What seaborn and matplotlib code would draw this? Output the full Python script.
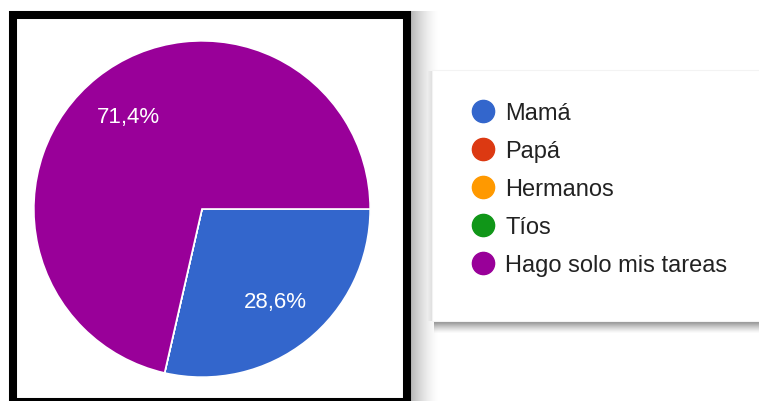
import matplotlib
matplotlib.use('Agg')
import matplotlib.pyplot as plt
from matplotlib.lines import Line2D
from matplotlib.patches import Rectangle
import seaborn as sns

# survey answers (counts)
categories = ['Mamá', 'Papá', 'Hermanos', 'Tíos', 'Hago solo mis tareas']
counts = [2, 0, 0, 0, 5]
colors = ['#3366cc', '#dc3912', '#ff9900', '#109618', '#990099']

sns.set_theme(style='white')
plt.rcParams['font.family'] = ['Liberation Sans', 'DejaVu Sans']

W, H = 759, 402
fig = plt.figure(figsize=(W / 100, H / 100), dpi=100)
fig.patch.set_facecolor('white')


def fx(px):
    return px / W


def fy(py):
    return 1 - py / H


# pie area: centre (202, 210), radius 169 px
ax = fig.add_axes([fx(33), fy(379), fx(338), 338 / H])
palette = sns.color_palette(colors)


def pct(p):
    return '' if p < 0.05 else f'{p:.1f}%'.replace('.', ',')


wedges, _, autotexts = ax.pie(
    counts, colors=palette, startangle=0, counterclock=False,
    autopct=pct, pctdistance=0.70, radius=1,
    wedgeprops=dict(edgecolor='white', linewidth=1.2),
    textprops=dict(color='white', fontsize=16),
)
ax.set_xlim(-1.005, 1.005)
ax.set_ylim(-1.005, 1.005)
ax.set_aspect('equal')
ax.axis('off')

# soft shadow right of the black frame
for i in range(28):
    a = 0.28 * (1 - i / 28) ** 1.6
    fig.patches.append(Rectangle((fx(411 + i), 0), fx(1), fy(12), transform=fig.transFigure,
                                 facecolor='black', edgecolor='none', alpha=a))
# thick black frame
fig.patches.append(Rectangle((fx(13), fy(403)), fx(394), (403 - 16) / H, transform=fig.transFigure,
                             facecolor='none', edgecolor='black', linewidth=5.8))

# legend card with shadow
for i in range(12):
    a = 0.45 * (1 - i / 12) ** 1.3
    fig.patches.append(Rectangle((fx(434), fy(322 + i + 1)), fx(325), fx(1) * W / H,
                                 transform=fig.transFigure, facecolor='black',
                                 edgecolor='none', alpha=a))
for i in range(4):
    fig.patches.append(Rectangle((fx(431 - i), fy(322)), fx(1), (322 - 72) / H,
                                 transform=fig.transFigure, facecolor='black',
                                 edgecolor='none', alpha=0.02 * (4 - i)))
fig.patches.append(Rectangle((fx(432), fy(322)), fx(330), (322 - 71) / H,
                             transform=fig.transFigure, facecolor='white',
                             edgecolor='#f3f3f3', linewidth=0.8))

handles = [Line2D([], [], marker='o', linestyle='none', markersize=16,
                  markerfacecolor=c, markeredgecolor=c) for c in palette]
leg = fig.legend(handles, categories, loc='center left',
                 bbox_to_anchor=(fx(471), fy(190)), frameon=False,
                 fontsize=17, handlelength=1.0, handletextpad=0.45,
                 labelspacing=0.68, borderpad=0, borderaxespad=0)
for t in leg.get_texts():
    t.set_color('#222222')

fig.savefig('out.png', dpi=100)
